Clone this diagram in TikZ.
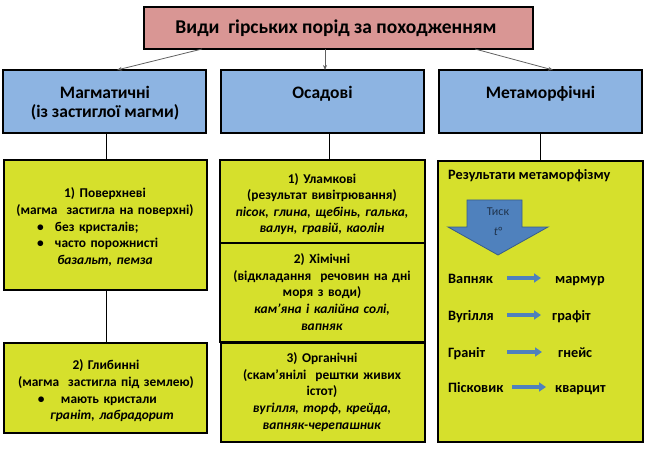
\documentclass[tikz,border=0pt]{standalone}
\usepackage{fontspec}
\setmainfont{Carlito}
\usetikzlibrary{arrows.meta}
\definecolor{titlefill}{HTML}{D99694}
\definecolor{bluefill}{HTML}{8DB4E2}
\definecolor{yelfill}{HTML}{D6E02C}
\definecolor{arrblue}{HTML}{4F81BD}
\definecolor{arrline}{HTML}{385D8A}
\definecolor{conngray}{HTML}{606060}
\begin{document}
\begin{tikzpicture}[x=1pt,y=-1pt,
  boxbase/.style={draw=black,line width=1.8pt,inner sep=0pt,outer sep=0pt,anchor=north west},
  titlebox/.style={boxbase,fill=titlefill},
  bluebox/.style={boxbase,fill=bluefill},
  yelbox/.style={boxbase,fill=yelfill,line width=1.5pt},
  ttext/.style={font=\fontsize{19.5}{22}\selectfont\bfseries,inner sep=0pt},
  btext/.style={font=\fontsize{17.5}{19.5}\selectfont\bfseries,inner sep=0pt,align=center},
  ytext/.style={font=\fontsize{13.4}{16.6}\selectfont\bfseries,inner sep=0pt,align=center,text width=204pt},
  rtext/.style={font=\fontsize{14.3}{16}\selectfont\bfseries,inner sep=0pt,anchor=base west},
  conn/.style={draw=conngray,line width=0.8pt,-{Stealth[length=5pt,width=4pt]}},
  vline/.style={draw=black,line width=0.9pt},
  rowarrow/.style={draw=arrblue,line width=3.5pt,-{Triangle[length=7pt,width=9pt]}},
  bigarrow/.style={fill=arrblue,draw=arrline,line width=0.8pt},
  arrtext/.style={font=\fontsize{12}{14}\selectfont,text=arrline!55!black,inner sep=0pt}
]
\useasboundingbox (0,0) rectangle (645,449);

% title
\node[titlebox,minimum width=389pt,minimum height=42pt] (title) at (144,7) {};
\node[ttext] (titletxt) at (336,28) {Види\ \ гірських порід за походженням};

% blue boxes
\node[bluebox,minimum width=203pt,minimum height=63pt] (mag) at (3,70) {};
\node[bluebox,minimum width=203pt,minimum height=63pt] (osad) at (221,70) {};
\node[bluebox,minimum width=203pt,minimum height=63pt] (meta) at (439,70) {};
\node[btext] (magtxt) at (105,103) {Магматичні\\(із застиглої магми)};
\node[btext] (osadtxt) at (322.5,94) {Осадові};
\node[btext] (metatxt) at (540.5,94) {Метаморфічні};

% connectors from title
\coordinate (c1s) at (202,49); \coordinate (c1e) at (117,70);
\coordinate (c2s) at (325,49); \coordinate (c2e) at (325,70);
\coordinate (c3s) at (475,49); \coordinate (c3e) at (553,70);
\draw[conn] (c1s) -- (c1e);
\draw[conn] (c2s) -- (c2e);
\draw[conn] (c3s) -- (c3e);

% yellow boxes
\node[yelbox,minimum width=203pt,minimum height=130pt] (pov) at (4,160) {};
\node[yelbox,minimum width=203pt,minimum height=90pt] (glyb) at (4,343) {};
\node[yelbox,minimum width=205pt,minimum height=83pt] (ulam) at (220,160) {};
\node[yelbox,minimum width=205pt,minimum height=99pt] (khim) at (220,243) {};
\node[yelbox,minimum width=204pt,minimum height=99pt] (org) at (221,343) {};
\node[yelbox,minimum width=205pt,minimum height=281pt] (res) at (438,161) {};

% vertical lines
\coordinate (v1a) at (106,133); \coordinate (v1b) at (106,160);
\coordinate (v2a) at (106,290); \coordinate (v2b) at (106,343);
\coordinate (v3a) at (329,133); \coordinate (v3b) at (329,160);
\coordinate (v4a) at (540,133); \coordinate (v4b) at (540,161);
\draw[vline] (v1a) -- (v1b);
\draw[vline] (v2a) -- (v2b);
\draw[vline] (v3a) -- (v3b);
\draw[vline] (v4a) -- (v4b);

% texts of left column
\node[ytext] (povtxt) at (105,227) {1) Поверхневі\\(магма\ \ застигла на поверхні)\\
  \makebox[204pt][l]{\hspace{34pt}\makebox[18pt][l]{•}без кристалів;}\\
  \makebox[204pt][l]{\hspace{34pt}\makebox[18pt][l]{•}часто порожнисті}\\
  \textit{базальт, пемза}};
\node[ytext] (glybtxt) at (106,391) {2) Глибинні\\(магма\ \ застигла під землею)\\
  \makebox[204pt][l]{\hspace{34pt}\makebox[23pt][l]{•}мають кристали}\\
  \hspace{12pt}\textit{граніт, лабрадорит}};

% texts of middle column
\node[ytext] (ulamtxt) at (322,204) {1) Уламкові\\(результат вивітрювання)\\
  \textit{пісок, глина, щебінь, галька,}\\\textit{валун, гравій, каолін}};
\node[ytext] (khimtxt) at (322,292) {2) Хімічні\\(відкладання\ \ речовин на дні\\моря з води)\\
  \textit{кам’яна і калійна солі,}\\\textit{вапняк}};
\node[ytext] (orgtxt) at (322,392) {3) Органічні\\(скам’янілі\ \ рештки живих\\істот)\\
  \textit{вугілля, торф, крейда,}\\\textit{вапняк-черепашник}};

% right column
\node[rtext] (restxt) at (448,180) {Результати метаморфізму};
\draw[bigarrow] (467,200) -- (522,200) -- (522,227) -- (548,227) -- (498,255) -- (448,227) -- (467,227) -- cycle;
\node[arrtext] (tysk) at (498,212) {Тиск};
\node[arrtext,font=\fontsize{12}{14}\selectfont\itshape] (temp) at (498,231) {t°};

\node[rtext] (r1a) at (448,283) {Вапняк};
\node[rtext] (r1b) at (555,283) {мармур};
\node[rtext] (r2a) at (448,320) {Вугілля};
\node[rtext] (r2b) at (552,320) {графіт};
\node[rtext] (r3a) at (448,357) {Граніт};
\node[rtext] (r3b) at (558,357) {гнейс};
\node[rtext] (r4a) at (448,392) {Пісковик};
\node[rtext] (r4b) at (555,392) {кварцит};
\coordinate (a1s) at (507,278); \coordinate (a1e) at (541,278);
\coordinate (a2s) at (507,315); \coordinate (a2e) at (541,315);
\coordinate (a3s) at (507,352); \coordinate (a3e) at (542,352);
\coordinate (a4s) at (512,387); \coordinate (a4e) at (546,387);
\draw[rowarrow] (a1s) -- (a1e);
\draw[rowarrow] (a2s) -- (a2e);
\draw[rowarrow] (a3s) -- (a3e);
\draw[rowarrow] (a4s) -- (a4e);
\end{tikzpicture}
\end{document}
